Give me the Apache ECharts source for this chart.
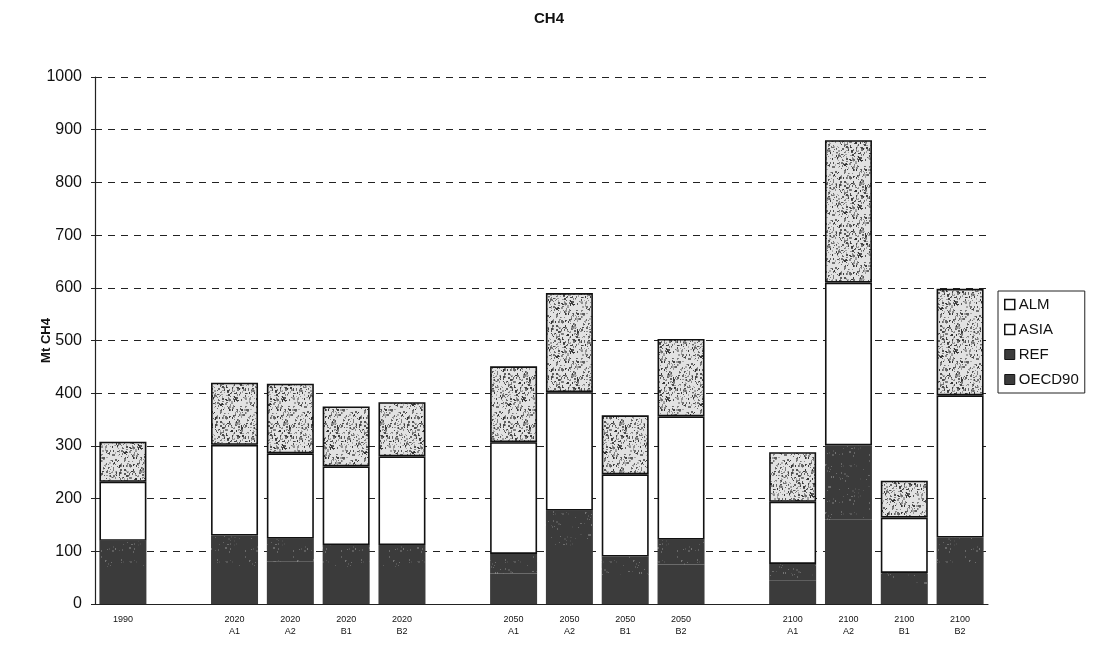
<!DOCTYPE html>
<html>
<head>
<meta charset="utf-8">
<title>CH4</title>
<script src="https://cdn.jsdelivr.net/npm/echarts@6/dist/echarts.min.js"></script>
<style>
  html, body { margin: 0; padding: 0; background: #fff; }
  #chart { width: 1098px; height: 654px; }
</style>
</head>
<body>
<div id="chart"></div>
<script>
// Methane emissions by region and scenario (Mt CH4)
const categories = ['1990', ' ', '2020\nA1', '2020\nA2', '2020\nB1', '2020\nB2', '  ',
  '2050\nA1', '2050\nA2', '2050\nB1', '2050\nB2', '   ',
  '2100\nA1', '2100\nA2', '2100\nB1', '2100\nB2'];

const oecd90 = [70, null, 72, 80, 70, 70, null, 58, 110, 55, 75, null, 45, 160, 38, 78];
const ref    = [50, null, 58, 44, 42, 42, null, 37, 67, 35, 47, null, 31, 141, 21, 48];
const asia   = [112, null, 172, 162, 149, 168, null, 212, 225, 156, 234, null, 118, 309, 105, 270];
const alm    = [76, null, 118, 132, 114, 103, null, 144, 188, 112, 147, null, 94, 270, 70, 202];

const yTicks = [0, 100, 200, 300, 400, 500, 600, 700, 800, 900, 1000];

// stippled fill for the ALM segments (deterministic speckle)
function makeStipple(bg, count, lo, span) {
  const c = document.createElement('canvas');
  c.width = 48; c.height = 48;
  const g = c.getContext('2d');
  g.fillStyle = bg;
  g.fillRect(0, 0, 48, 48);
  let s = 12345;
  const next = () => { s = (s * 1103515245 + 12345) & 0x7fffffff; return s / 0x7fffffff; };
  for (let i = 0; i < count; i++) {
    const x = Math.floor(next() * 48), y = Math.floor(next() * 48);
    const v = Math.floor(lo + next() * span);
    g.fillStyle = 'rgb(' + v + ',' + v + ',' + v + ')';
    g.fillRect(x, y, next() < 0.3 ? 2 : 1, next() < 0.5 ? 2 : 1);
  }
  return c;
}

const font = '"Liberation Sans", Arial, Helvetica, sans-serif';
const chart = echarts.init(document.getElementById('chart'), null, { renderer: 'canvas' });

const border = { borderColor: '#111', borderWidth: 1.6 };
const barW = 47;
const dark = '#3b3b3b';

chart.setOption({
  animation: false,
  backgroundColor: '#fff',
  title: {
    text: 'CH4', left: 'center', top: 6,
    textStyle: { fontFamily: font, fontSize: 15, fontWeight: 'bold', color: '#111' }
  },
  legend: {
    orient: 'vertical', left: 998, top: 291,
    data: [
      { name: 'ALM', itemStyle: { color: '#fff', borderColor: '#111', borderWidth: 1.5 } },
      { name: 'ASIA', itemStyle: { color: '#fff', borderColor: '#111', borderWidth: 1.5 } },
      { name: 'REF', itemStyle: { color: dark, borderColor: '#111', borderWidth: 1 } },
      { name: 'OECD90', itemStyle: { color: dark, borderColor: '#111', borderWidth: 1 } }
    ],
    icon: 'rect', itemWidth: 10, itemHeight: 10, itemGap: 10,
    padding: [6, 6, 6, 6],
    borderColor: '#222', borderWidth: 1,
    textStyle: { fontFamily: font, fontSize: 15, color: '#111', padding: [0, 0, 0, -1] }
  },
  grid: { left: 95, right: 110, top: 77, bottom: 50, containLabel: false },
  xAxis: {
    type: 'category', data: categories,
    axisLine: { show: true, lineStyle: { color: '#222', width: 1.2 } },
    axisTick: { show: false },
    axisLabel: { fontFamily: font, fontSize: 9, color: '#111', lineHeight: 12, margin: 10, interval: 0 }
  },
  yAxis: {
    type: 'value', min: yTicks[0], max: yTicks[yTicks.length - 1], interval: 100,
    name: 'Mt CH4', nameLocation: 'middle', nameGap: 42, nameRotate: 90,
    nameMoveOverlap: false,
    nameTextStyle: { fontFamily: font, fontSize: 13, fontWeight: 'bold', color: '#111' },
    axisLine: { show: true, lineStyle: { color: '#222', width: 1.2 } },
    axisTick: { show: true, length: 4, lineStyle: { color: '#222' } },
    axisLabel: { fontFamily: font, fontSize: 16, color: '#111', margin: 13,
      formatter: v => String(v) },
    splitLine: { show: true, lineStyle: { color: '#222', width: 1, type: [7, 6] } }
  },
  series: [
    { name: 'OECD90', type: 'bar', stack: 'ch4', data: oecd90, barWidth: barW,
      itemStyle: { color: dark, borderWidth: 0 } },
    { name: 'REF', type: 'bar', stack: 'ch4', data: ref, barWidth: barW,
      itemStyle: { color: { image: makeStipple(dark, 60, 70, 50), repeat: 'repeat' }, borderWidth: 0 } },
    { name: 'ASIA', type: 'bar', stack: 'ch4', data: asia, barWidth: barW,
      itemStyle: Object.assign({ color: '#fff' }, border) },
    { name: 'ALM', type: 'bar', stack: 'ch4', data: alm, barWidth: barW,
      itemStyle: Object.assign({ color: { image: makeStipple('#e2e2e2', 420, 50, 130), repeat: 'repeat' } }, border) }
  ]
});
</script>
</body>
</html>
